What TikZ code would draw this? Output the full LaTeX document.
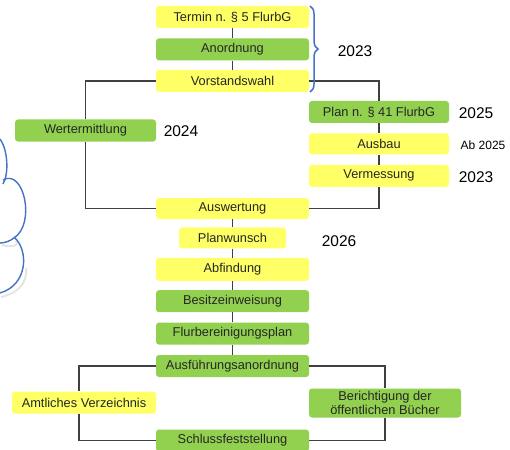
\documentclass[tikz,border=0pt]{standalone}
\usepackage{fontspec}
\setmainfont{Liberation Sans}
\usetikzlibrary{positioning,calc,decorations.pathreplacing}
\usepackage{xcolor}
\definecolor{boxgelb}{RGB}{255,255,102}
\definecolor{boxgruen}{RGB}{146,208,80}
\definecolor{klammerblau}{RGB}{68,114,196}

\begin{document}
\begin{tikzpicture}[x=1pt,y=-1pt]

	\tikzstyle{stdbox}=[rectangle, rounded corners=3pt, inner sep=0pt, minimum width=153pt, minimum height=22pt, text=black!85, font=\fontsize{12.8}{14}\selectfont, align=center];
	\tikzstyle{gelb}=[stdbox, fill=boxgelb];
	\tikzstyle{gruen}=[stdbox, fill=boxgruen];
	\tikzstyle{jahr}=[font=\fontsize{15.5}{18}\selectfont];
	\tikzstyle{linie}=[draw=black!75, line width=1.8pt];

	\useasboundingbox (0,0) rectangle (510,449);

    \begin{scope}
    	% mittlere Spalte
    	\node (termin) at (232.5,17) [gelb]{Termin n. § 5 FlurbG};
    	\node (anordnung) [below = 10pt of termin, gruen]{Anordnung};
    	\node (vorstand) [below = 9pt of anordnung, gelb]{Vorstandswahl};
    	\node (wert) at (85.5,130.5) [gruen, minimum width=141pt]{Wertermittlung};
    	\node (plan) at (379,112) [gruen, minimum width=140pt]{Plan n. § 41 FlurbG};
    	\node (ausbau) [below = 10pt of plan, gelb, minimum width=140pt, minimum height=21pt]{Ausbau};
    	\node (verm) [below = 10pt of ausbau, gelb, minimum width=140pt]{Vermessung};
    	\node (ausw) at (232.5,208.5) [gelb, minimum height=21pt]{Auswertung};
    	\node (planw) [below = 8pt of ausw, gelb, minimum width=107pt, minimum height=21pt]{Planwunsch};
    	\node (abf) [below = 9pt of planw, gelb, minimum height=23pt]{Abfindung};
    	\node (besitz) [below = 9pt of abf, gruen]{Besitzeinweisung};
    	\node (flur) [below = 10pt of besitz, gruen]{Flurbereinigungsplan};
    	\node (ausf) [below = 10pt of flur, gruen]{Ausführungsanordnung};
    	\node (amtl) at (84,402.5) [gelb, minimum width=144pt]{Amtliches Verzeichnis};
    	\node (ber) at (385,403) [gruen, minimum width=152pt, minimum height=29pt, font=\fontsize{12.8}{13.5}\selectfont]{Berichtigung der\\öffentlichen Bücher};
    	\node (schluss) at (232.5,440.5) [gruen]{Schlussfeststellung};

    	% Jahre
    	\node (j2023a) at (355,51) [jahr]{2023};
    	\node (j2024) at (181,131.5) [jahr]{2024};
    	\node (j2025) at (476,113) [jahr]{2025};
    	\node (jab2025) at (483,145) [font=\fontsize{12}{14}\selectfont]{Ab 2025};
    	\node (j2023b) at (476,177) [jahr]{2023};
    	\node (j2026) at (339,241) [jahr]{2026};
    \end{scope}

    % Verbindungen
    \path[linie] (termin) -- (anordnung) -- (vorstand);
    \path[linie] (vorstand.west) -| (wert.north);
    \path[linie] (wert.south) |- (ausw.west);
    \path[linie] (vorstand.east) -| (plan.north);
    \path[linie] (plan) -- (ausbau) -- (verm);
    \path[linie] (verm.south) |- (ausw.east);
    \path[linie] (ausw) -- (planw) -- (abf) -- (besitz) -- (flur) -- (ausf);
    \path[linie] (ausf.west) -| ([xshift=-5pt]amtl.north);
    \path[linie] ([xshift=-5pt]amtl.south) |- (schluss.west);
    \path[linie] (ausf.east) -| (ber.north);
    \path[linie] (ber.south) |- (schluss.east);

    % Klammer 2023
    \draw[klammerblau, line width=1.5pt, decorate, decoration={brace, amplitude=8pt}] (310,6) -- (310,92);

    % Wolke links
    \begin{scope}[line width=1.4pt]
    	\draw[black!10, line width=2pt] (2,245) .. controls (8,247) and (20,247) .. (16,241);
    	\draw[black!10, line width=2pt] (26,268) .. controls (28,285) and (15,294) .. (1,297);
    	\draw[klammerblau] (0,139) .. controls (8,150) and (9,174) .. (3,184);
    	\draw[klammerblau] (3,180) .. controls (24,168) and (36,224) .. (14,238) .. controls (10,241) and (5,243) .. (0,243);
    	\draw[klammerblau] (14,237) .. controls (29,250) and (28,285) .. (0,293);
    \end{scope}

\end{tikzpicture}
\end{document}
